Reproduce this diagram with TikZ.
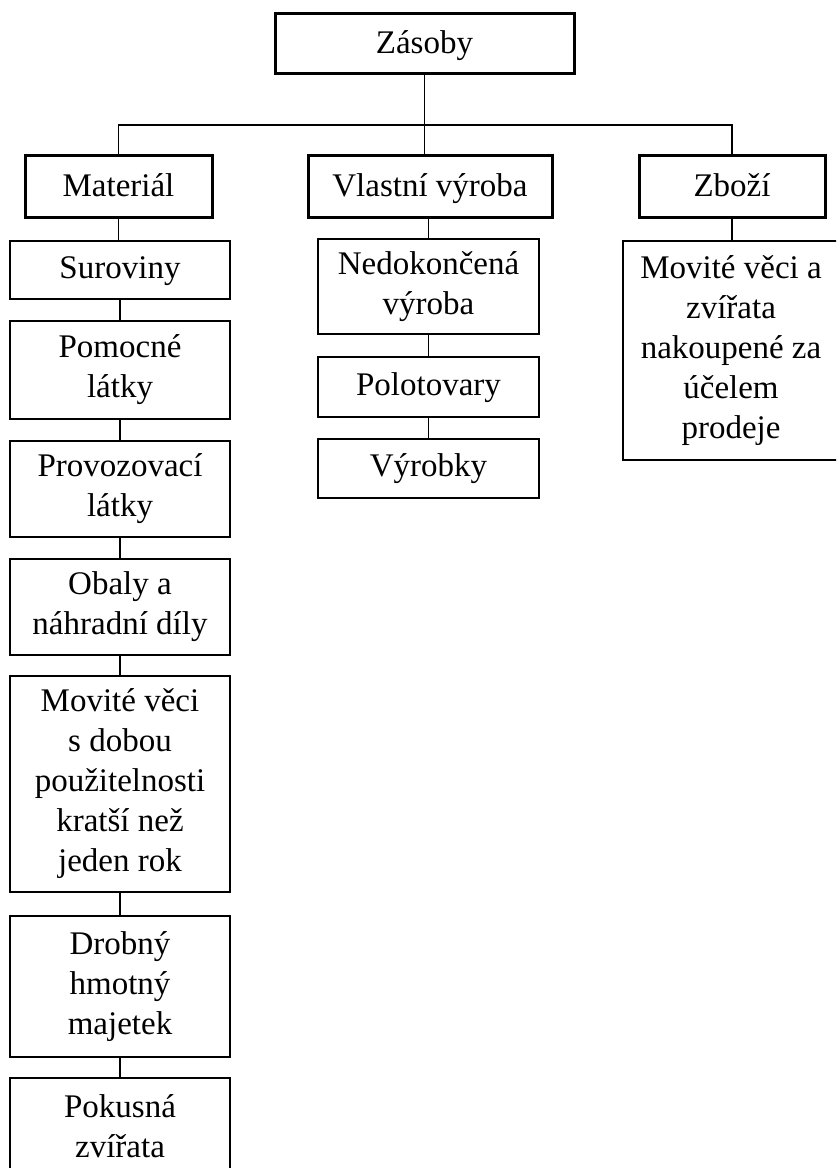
\documentclass[tikz,border=0pt]{standalone}
\usepackage{fontspec}
\setmainfont{Liberation Serif}
\begin{document}
\begin{tikzpicture}[x=1pt,y=-1pt,
  base/.style={font=\fontsize{33}{40}\selectfont, inner sep=0pt, draw},
  topbox/.style={base, line width=3pt, text height=29pt, text depth=8pt},
  onebox/.style={base, line width=1.3pt, text height=24pt, text depth=8pt},
  subbox/.style={base, line width=1.3pt, align=center},
  conn/.style={line width=1.3pt}]
\clip (0,0) rectangle (836,1168);
\fill[white] (0,0) rectangle (836,1168);
% top
\node[topbox, minimum width=299, minimum height=60] (zas) at (424.5,43) {Zásoby};
% level 1
\node[topbox, minimum width=187, minimum height=62] (mat) at (118.5,186) {Materiál};
\node[topbox, minimum width=244, minimum height=62] (vv) at (430,186) {Vlastní výroba};
\node[topbox, minimum width=186, minimum height=62] (zbo) at (732,186) {Zboží};
\coordinate (bus) at (424.5,125);
\draw[conn] (zas.south) -- (bus);
\draw[conn] (mat.north) |- (bus) -| (zbo.north);
\draw[conn] (bus) -- (bus |- vv.north);
% material column
\node[onebox, minimum width=220, minimum height=58] (sur) at (120,270) {Suroviny};
\node[subbox, minimum width=220, minimum height=98] (pom) at (120,370) {Pomocné\\látky};
\node[subbox, minimum width=220, minimum height=96] (pro) at (120,489) {Provozovací\\látky};
\node[subbox, minimum width=220, minimum height=96] (oba) at (120,607) {Obaly a\\náhradní díly};
\node[subbox, minimum width=220, minimum height=216] (mov) at (120,784) {Movité věci\\s dobou\\použitelnosti\\kratší než\\jeden rok};
\node[subbox, minimum width=220, minimum height=141] (dro) at (120,986.5) {Drobný\\hmotný\\majetek};
\node[subbox, minimum width=220, minimum height=96] (pok) at (120,1126) {Pokusná\\zvířata};
\draw[conn] (mat.south) -- (mat.south |- sur.north);
\draw[conn] (sur) -- (pom);
\draw[conn] (pom) -- (pro);
\draw[conn] (pro) -- (oba);
\draw[conn] (oba) -- (mov);
\draw[conn] (mov) -- (dro);
\draw[conn] (dro) -- (pok);
% vlastni vyroba column
\node[subbox, minimum width=221, minimum height=95] (ned) at (428.5,286.5) {Nedokončená\\výroba};
\node[onebox, minimum width=221, minimum height=60] (pol) at (428.5,387) {Polotovary};
\node[onebox, minimum width=221, minimum height=59] (vyr) at (428.5,468.5) {Výrobky};
\draw[conn] (vv.south -| ned.north) -- (ned.north);
\draw[conn] (ned) -- (pol);
\draw[conn] (pol) -- (vyr);
% zbozi
\node[subbox, minimum width=216, minimum height=219] (mvz) at (731,350.5) {Movité věci a\\zvířata\\nakoupené za\\účelem\\prodeje};
\draw[conn] (zbo.south) -- (zbo.south |- mvz.north);
\end{tikzpicture}
\end{document}
